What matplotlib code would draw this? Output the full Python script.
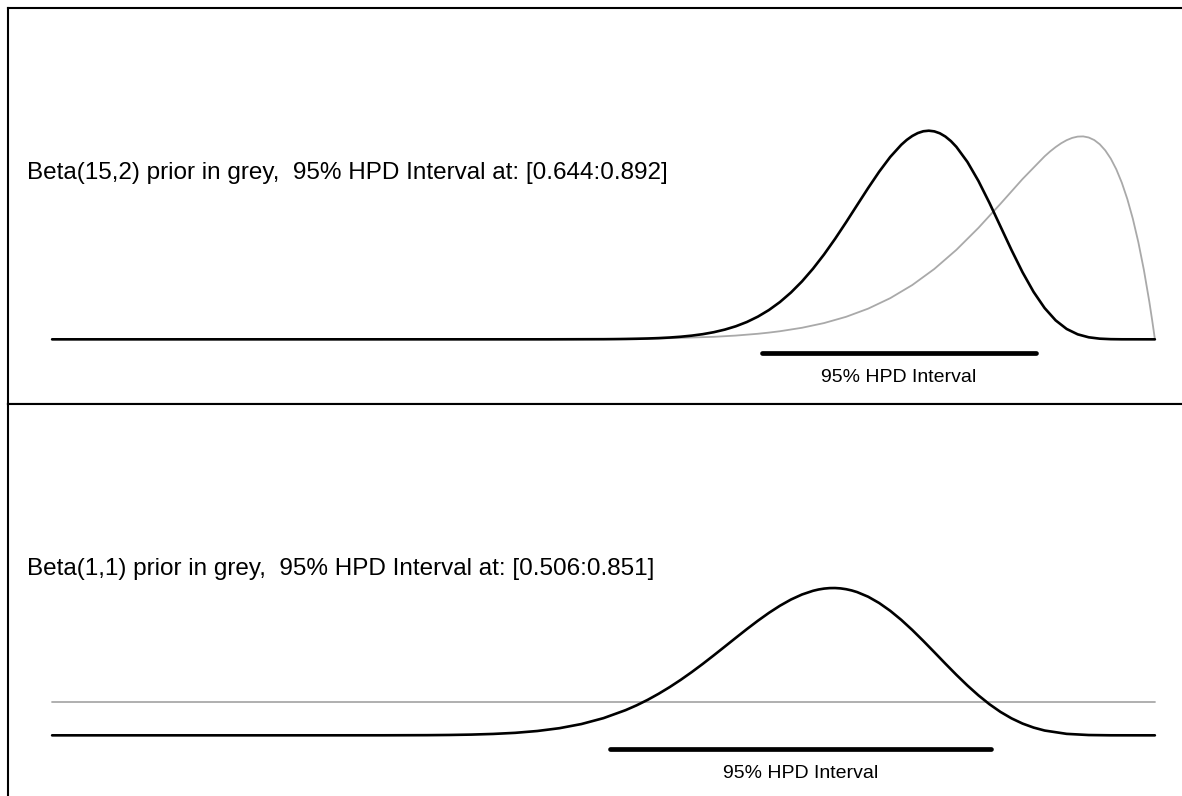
import matplotlib
matplotlib.use("Agg")
import matplotlib.pyplot as plt

plt.rcParams['font.family'] = ['Liberation Sans', 'DejaVu Sans']

# panel 1: Beta(15,2) prior, posterior density
post1_x = [0.00, 0.45, 0.50, 0.51, 0.52, 0.53, 0.54, 0.55, 0.56, 0.57, 0.58, 0.59,
           0.60, 0.61, 0.62, 0.63, 0.64, 0.65, 0.66, 0.67, 0.68, 0.69,
           0.70, 0.71, 0.72, 0.73, 0.74, 0.75, 0.76, 0.77, 0.775, 0.78, 0.785, 0.79, 0.795,
           0.80, 0.805, 0.81, 0.815, 0.82, 0.83, 0.84, 0.85, 0.86, 0.87, 0.88, 0.89,
           0.90, 0.91, 0.92, 0.93, 0.94, 0.95, 0.96, 0.97, 1.00]
post1_y = [0.0, 0.0004, 0.004, 0.007, 0.011, 0.017, 0.025, 0.037, 0.054, 0.078, 0.111, 0.155,
           0.214, 0.292, 0.392, 0.520, 0.681, 0.879, 1.119, 1.405, 1.738, 2.120,
           2.547, 3.015, 3.513, 4.028, 4.540, 5.030, 5.471, 5.836, 5.983, 6.101, 6.188, 6.242, 6.259,
           6.239, 6.181, 6.084, 5.948, 5.774, 5.322, 4.751, 4.091, 3.385, 2.678, 2.011, 1.423,
           0.939, 0.569, 0.311, 0.150, 0.061, 0.020, 0.005, 0.001, 0.0]
prior1_x = [0.00, 0.30, 0.40, 0.45, 0.50, 0.55, 0.60, 0.62, 0.64, 0.65, 0.66, 0.68,
            0.70, 0.72, 0.74, 0.76, 0.78, 0.80, 0.82, 0.84, 0.86, 0.88,
            0.90, 0.905, 0.91, 0.915, 0.92, 0.925, 0.93, 0.935, 0.94, 0.945, 0.95,
            0.955, 0.96, 0.965, 0.97, 0.975, 0.98, 0.985, 0.99, 0.995, 0.9975, 0.999, 1.00]
prior1_y = [0.0, 0.00001, 0.0004, 0.0018, 0.0073, 0.025, 0.075, 0.113, 0.167, 0.202, 0.243, 0.347,
            0.488, 0.676, 0.921, 1.235, 1.629, 2.111, 2.685, 3.344, 4.067, 4.810,
            5.490, 5.637, 5.768, 5.882, 5.975, 6.043, 6.082, 6.088, 6.055, 5.979, 5.852,
            5.668, 5.421, 5.101, 4.700, 4.209, 3.618, 2.913, 2.085, 1.119, 0.579, 0.237, 0.0]
hpd1 = [0.644, 0.892]
title1 = "Beta(15,2) prior in grey,  95% HPD Interval at: [0.644:0.892]"

# panel 2: Beta(1,1) prior
post2_x = [0.00, 0.20, 0.30, 0.34, 0.36, 0.38, 0.40, 0.42, 0.44, 0.46, 0.48,
           0.50, 0.52, 0.53, 0.54, 0.55, 0.56, 0.57, 0.58, 0.59, 0.60, 0.61, 0.62, 0.63,
           0.64, 0.65, 0.66, 0.67, 0.68, 0.69, 0.695, 0.70, 0.705, 0.71, 0.715, 0.72, 0.725,
           0.73, 0.74, 0.75, 0.76, 0.77, 0.78, 0.79, 0.80, 0.81, 0.82, 0.83, 0.84, 0.85,
           0.86, 0.87, 0.88, 0.89, 0.90, 0.92, 0.94, 0.96, 1.00]
post2_y = [0.0, 0.0, 0.001, 0.005, 0.011, 0.022, 0.042, 0.075, 0.130, 0.214, 0.339,
           0.516, 0.755, 0.900, 1.064, 1.247, 1.447, 1.664, 1.897, 2.143, 2.400, 2.662, 2.926, 3.187,
           3.438, 3.674, 3.888, 4.074, 4.225, 4.336, 4.375, 4.402, 4.417, 4.419, 4.408, 4.384, 4.347,
           4.297, 4.158, 3.969, 3.736, 3.464, 3.160, 2.833, 2.494, 2.151, 1.815, 1.495, 1.199, 0.933,
           0.702, 0.509, 0.353, 0.233, 0.144, 0.044, 0.009, 0.001, 0.0]
prior2_x = [0.0, 1.0]
prior2_y = [1.0, 1.0]
hpd2 = [0.506, 0.851]
title2 = "Beta(1,1) prior in grey,  95% HPD Interval at: [0.506:0.851]"

panels = [
    (post1_x, post1_y, prior1_x, prior1_y, hpd1, title1),
    (post2_x, post2_y, prior2_x, prior2_y, hpd2, title2),
]

W, H = 1182, 796
fig = plt.figure(figsize=(W / 100, H / 100), dpi=100)

# boxes in pixels: left 8, right runs past the image, each 396 px tall
boxes = [(8, 8), (8, 404)]
for (px, py), (px_, py_, prx, pry, hpd, title) in zip(boxes, panels):
    ax = fig.add_axes([px / W, (H - py - 396) / H, 1191 / W, 396 / H])
    ax.plot(prx, pry, color='#a9a9a9', lw=1.3, solid_capstyle='round',
            solid_joinstyle='round')
    ax.plot(px_, py_, color='black', lw=1.9, solid_capstyle='round',
            solid_joinstyle='round')
    ax.plot(hpd, [-0.42, -0.42], color='black', lw=3.4, solid_capstyle='round')
    ax.text(sum(hpd) / 2, -1.15, "95% HPD Interval", ha='center', va='center',
            fontsize=14)
    ax.text(-0.0227, 5.0, title, ha='left', va='center', fontsize=17.5)
    ax.set_xlim(-0.04, 1.04)
    ax.set_ylim(-1.94, 9.94)
    ax.set_xticks([])
    ax.set_yticks([])
    for s in ax.spines.values():
        s.set_linewidth(1.5)
        s.set_color('black')

fig.savefig("out.png", dpi=100)
